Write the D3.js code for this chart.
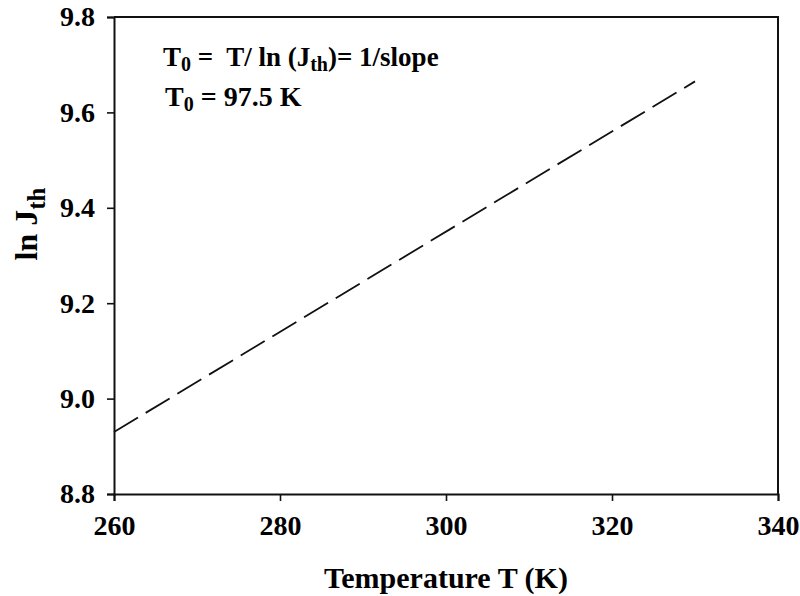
<!DOCTYPE html>
<html>
<head>
<meta charset="utf-8">
<script src="https://cdn.jsdelivr.net/npm/d3@7"></script>
<style>
  html, body { margin: 0; padding: 0; background: #fff; }
  svg { display: block; }
  .serif { font-family: 'Liberation Serif', 'Times New Roman', Times, serif; font-weight: bold; }
</style>
</head>
<body>
<svg id="chart" width="800" height="596"></svg>
<script>
// Fitted line ln(Jth) vs temperature
const temperatures = [260, 330];
const lnJth = [8.93, 9.665];

// Axis ticks
const xTicks = [260, 280, 300, 320, 340];
const yTicks = [8.8, 9.0, 9.2, 9.4, 9.6, 9.8];

const width = 800, height = 596;
const margin = { top: 17, right: 22, bottom: 102, left: 114 };
const svg = d3.select("#chart");

const x = d3.scaleLinear().domain([260, 340]).range([margin.left, width - margin.right]);
const y = d3.scaleLinear().domain([8.8, 9.8]).range([height - margin.bottom, margin.top]);

const axisColor = "#111";

// Frame (top and right edges)
svg.append("path")
  .attr("d", `M${x(260)},${y(9.8)}H${x(340)}V${y(8.8)}`)
  .attr("fill", "none").attr("stroke", axisColor).attr("stroke-width", 2);

// Bottom axis
const gx = svg.append("g")
  .attr("transform", `translate(0,${y(8.8)})`)
  .call(d3.axisBottom(x).tickValues(xTicks).tickSize(7).tickPadding(14).tickFormat(d3.format("d")));
// Left axis
const gy = svg.append("g")
  .attr("transform", `translate(${x(260)},0)`)
  .call(d3.axisLeft(y).tickValues(yTicks).tickSize(7).tickPadding(12).tickFormat(d3.format(".1f")));

[gx, gy].forEach(g => {
  g.attr("font-family", null).attr("font-size", null);
  g.select(".domain").attr("stroke", axisColor).attr("stroke-width", 2);
  g.selectAll(".tick line").attr("stroke", axisColor).attr("stroke-width", 1.6);
  g.selectAll(".tick text")
    .attr("class", "serif")
    .style("font-size", "28px")
    .attr("fill", "#000");
});

// Dashed fit line
const pts = temperatures.map((t, i) => [t, lnJth[i]]);
svg.append("path")
  .datum(pts)
  .attr("d", d3.line().x(d => x(d[0])).y(d => y(d[1])))
  .attr("fill", "none")
  .attr("stroke", "#111")
  .attr("stroke-width", 1.8)
  .attr("stroke-dasharray", "28,9");

// Axis titles
svg.append("text")
  .attr("class", "serif")
  .attr("x", (x(260) + x(340)) / 2)
  .attr("y", 588)
  .attr("text-anchor", "middle")
  .style("font-size", "30px")
  .text("Temperature T (K)");

const yl = svg.append("text")
  .attr("class", "serif")
  .attr("transform", `translate(37,${224}) rotate(-90)`)
  .attr("text-anchor", "middle")
  .style("font-size", "32px");
yl.append("tspan").text("ln J");
yl.append("tspan").attr("dy", 8).style("font-size", "25px").text("th");

// Annotations
const a1 = svg.append("text")
  .attr("class", "serif")
  .attr("x", 163).attr("y", 66)
  .style("font-size", "27px")
  .style("white-space", "pre");
a1.append("tspan").text("T");
a1.append("tspan").attr("dy", 5).style("font-size", "20px").text("0");
a1.append("tspan").attr("dy", -5).text(" =  T/ ln (J");
a1.append("tspan").attr("dy", 5).style("font-size", "20px").text("th");
a1.append("tspan").attr("dy", -5).text(")= 1/slope");

const a2 = svg.append("text")
  .attr("class", "serif")
  .attr("x", 165).attr("y", 106)
  .style("font-size", "28px");
a2.append("tspan").text("T");
a2.append("tspan").attr("dy", 5).style("font-size", "20px").text("0");
a2.append("tspan").attr("dy", -5).text(" = 97.5 K");
</script>
</body>
</html>
